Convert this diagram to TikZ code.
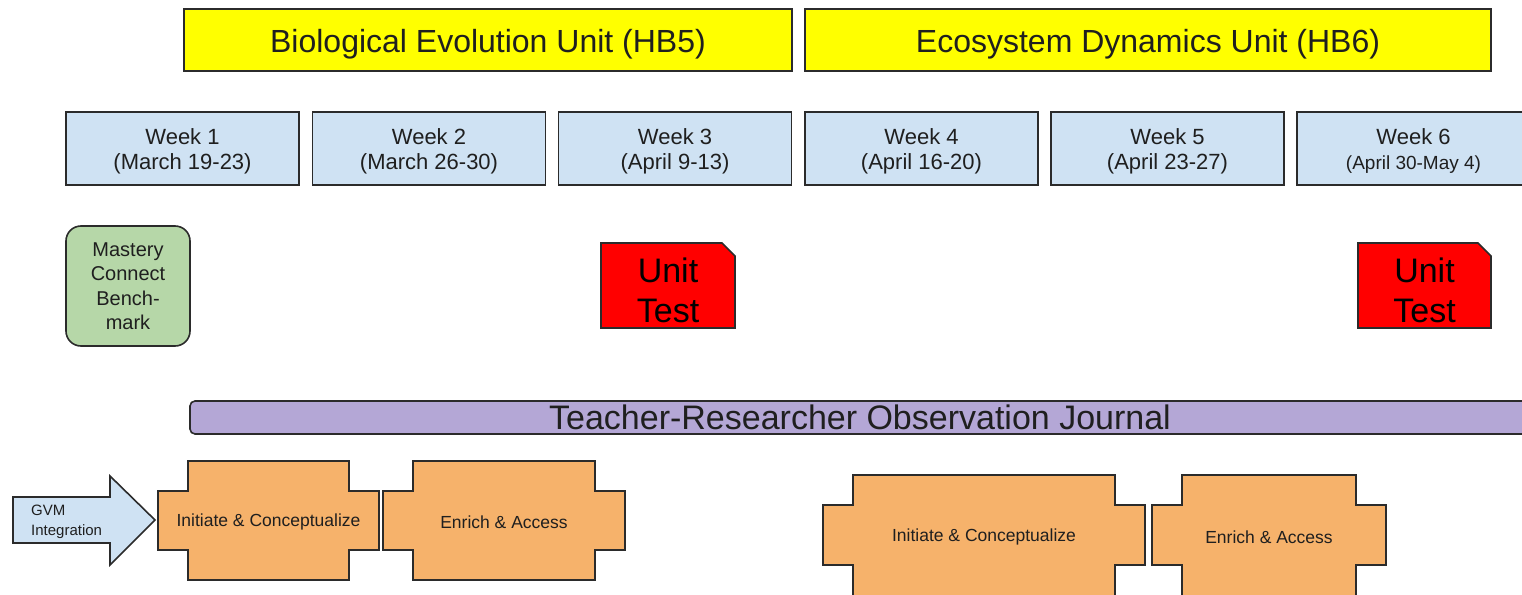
\documentclass[tikz,border=0pt]{standalone}
\usepackage{fontspec}
\setmainfont{Liberation Sans}
\usetikzlibrary{shapes.misc}
\definecolor{unityellow}{HTML}{FFFF00}
\definecolor{weekblue}{HTML}{CFE2F3}
\definecolor{mastgreen}{HTML}{B6D7A8}
\definecolor{testred}{HTML}{FF0000}
\definecolor{journpurple}{HTML}{B4A7D6}
\definecolor{phaseorange}{HTML}{F6B26B}
\definecolor{edgegray}{HTML}{2B2B2B}
\definecolor{txtgray}{HTML}{1F1F1F}
\newcommand{\plusshape}[8]{% oL, iL, iR, oR, top, notchT, notchB, bottom
  \draw[phasebox] (#2,#5) -- (#3,#5) -- (#3,#6) -- (#4,#6) -- (#4,#7) -- (#3,#7) -- (#3,#8) -- (#2,#8) -- (#2,#7) -- (#1,#7) -- (#1,#6) -- (#2,#6) -- cycle;}
\newcommand{\fs}[2]{\fontsize{#1}{#2}\selectfont}
\begin{document}
\begin{tikzpicture}[x=1pt,y=-1pt,
  every node/.style={text=txtgray},
  unitbox/.style={draw=edgegray, line width=1.6pt, fill=unityellow, minimum height=62pt, inner sep=0pt, text height=32pt, text depth=7pt, font=\fs{32}{38}},
  weekbox/.style={draw=edgegray, line width=1.6pt, fill=weekblue, minimum width=233pt, minimum height=73pt, inner sep=0pt, align=center, text height=45.6pt, text depth=4.6pt, font=\fs{22}{25}},
  mastbox/.style={draw=edgegray, line width=1.6pt, fill=mastgreen, rounded corners=15pt, minimum width=124pt, minimum height=120pt, inner sep=0pt, align=center, font=\fs{20}{24.5}},
  testshape/.style={draw=edgegray, line width=1.6pt, fill=testred},
  testtext/.style={align=center, inner sep=0pt, font=\fs{34}{40}, text=black},
  journbox/.style={draw=edgegray, line width=1.6pt, fill=journpurple, rounded corners=5pt, minimum height=33pt, inner sep=0pt, text height=28pt, text depth=4pt, font=\fs{34}{40}},
  phasebox/.style={draw=edgegray, line width=1.6pt, fill=phaseorange},
  phasetext/.style={inner sep=0pt, font=\fs{17.5}{21}},
  arrowshape/.style={draw=edgegray, line width=1.6pt, fill=weekblue},
  arrowtext/.style={inner sep=0pt, align=left, font=\fs{15}{20}}
]
\useasboundingbox (0,0) rectangle (1522,594);

% Units
\node[unitbox, minimum width=608pt] (bio) at (488,40) {Biological Evolution Unit (HB5)};
\node[unitbox, minimum width=686pt] (eco) at (1148,40) {Ecosystem Dynamics Unit (HB6)};

% Weeks
\node[weekbox] (w1) at (182.5,148.5) {Week 1\\(March 19-23)};
\node[weekbox] (w2) at (429,148.5) {Week 2\\(March 26-30)};
\node[weekbox] (w3) at (675,148.5) {Week 3\\(April 9-13)};
\node[weekbox] (w4) at (921.5,148.5) {Week 4\\(April 16-20)};
\node[weekbox] (w5) at (1167.5,148.5) {Week 5\\(April 23-27)};
\node[weekbox, text height=45pt, text depth=4pt] (w6) at (1413.5,148.5) {Week 6\\{\fs{19}{25}(April 30-May 4)}};

% Mastery connect
\node[mastbox] (mast) at (128,286) {Mastery\\Connect\\Bench-\\mark};

% Unit tests
\draw[testshape] (601,243) -- (722,243) -- (735,256) -- (735,328) -- (601,328) -- cycle;
\node[testtext] (test1) at (668,290) {Unit\\Test};
\draw[testshape] (1358,243) -- (1478,243) -- (1491,256) -- (1491,328) -- (1358,328) -- cycle;
\node[testtext] (test2) at (1424.5,290) {Unit\\Test};

% Journal
\node[journbox, minimum width=1340pt] (journal) at (860,417.5) {Teacher-Researcher Observation Journal};

% GVM arrow
\draw[arrowshape] (13,497) -- (110,497) -- (110,476) -- (155,520) -- (110,565) -- (110,543) -- (13,543) -- cycle;
\node[arrowtext, anchor=west] (gvm) at (31,522) {GVM\\Integration};

% Phase shapes
\plusshape{158}{188}{349}{379}{461}{491}{550}{580}
\node[phasetext] (ic1) at (268.5,522) {Initiate \& Conceptualize};
\plusshape{383}{413}{595}{625}{461}{491}{550}{580}
\node[phasetext] (ea1) at (504,522) {Enrich \& Access};
\plusshape{823}{853}{1115}{1145}{475}{505}{565}{605}
\node[phasetext] (ic2) at (984,537) {Initiate \& Conceptualize};
\plusshape{1152}{1182}{1356}{1386}{475}{505}{565}{605}
\node[phasetext] (ea2) at (1269,537) {Enrich \& Access};
\end{tikzpicture}
\end{document}
